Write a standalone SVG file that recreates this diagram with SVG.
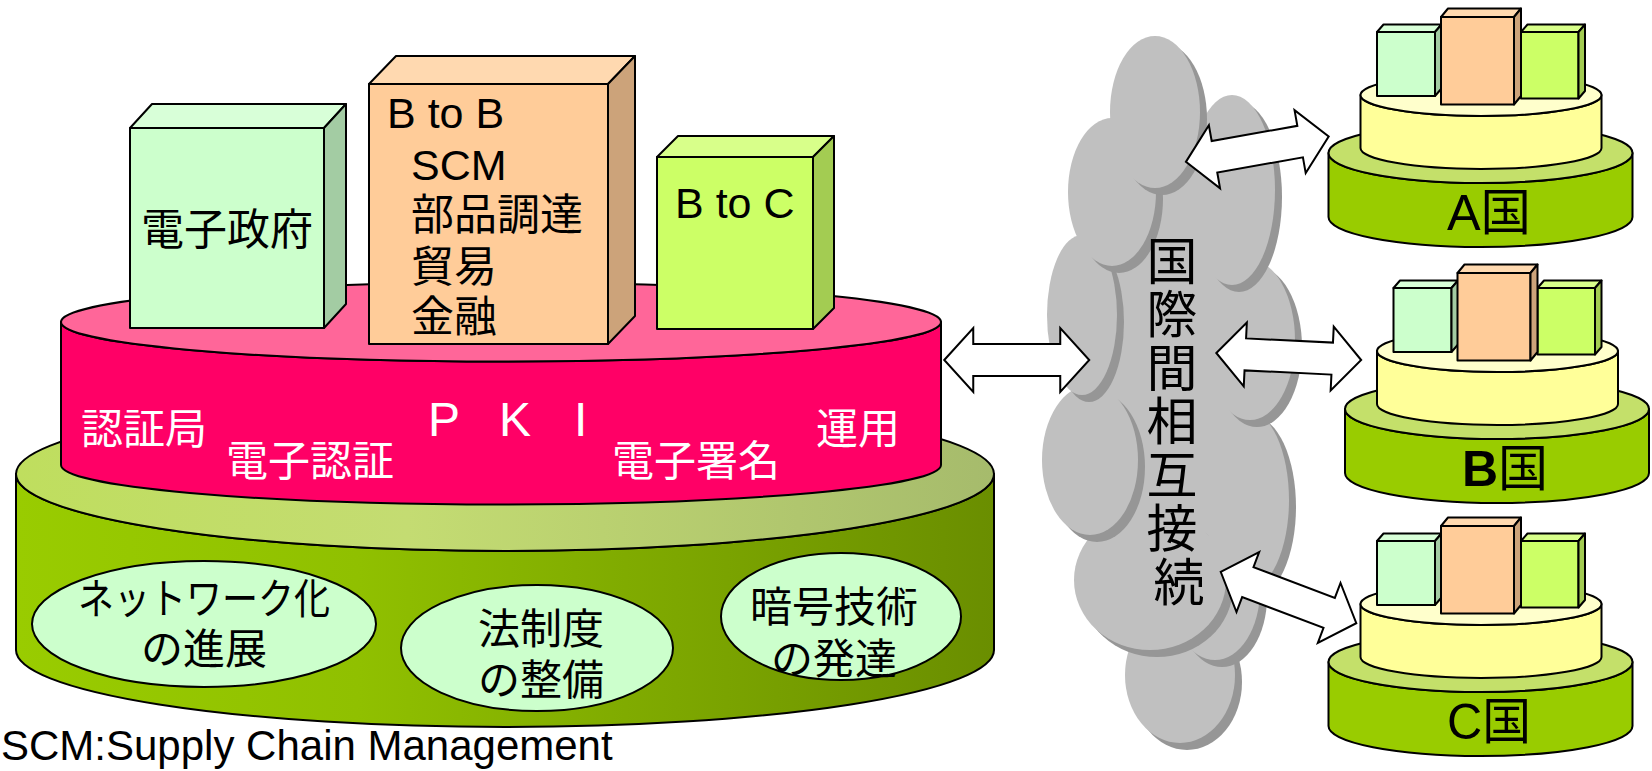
<svg xmlns="http://www.w3.org/2000/svg" xmlns:xlink="http://www.w3.org/1999/xlink" width="1652" height="771" viewBox="0 0 1652 771">
  <style>
    .ln { stroke: #000; stroke-width: 2; stroke-linejoin: round; }
    .t { font-family: "Liberation Sans", "Noto Sans CJK JP", sans-serif; font-size: 42px; fill: #000; }
    .t.box { font-size: 43px; }
    .t.big { font-size: 50px; }
    .t.vert { font-size: 51px; }
    .t.note { font-size: 42px; }
    .t.pk { font-size: 48px; }
    .w { fill: #fff; }
    .gF { fill: #CCFFCC; } .gT { fill: #D8FFD8; } .gS { fill: #A3CCA3; }
    .oF { fill: #FFCC99; } .oT { fill: #FFD9B0; } .oS { fill: #CCA37A; }
    .lF { fill: #CCFF66; } .lT { fill: #D8FF8A; } .lS { fill: #A3CC52; }
    .cl { fill: #C0C0C0; }
    .sh { fill: #969696; }
    .arrow { fill: #fff; stroke: #000; stroke-width: 2; stroke-linejoin: miter; }
  </style>
  <defs>
    <linearGradient id="baseSide" x1="0" y1="0" x2="1" y2="0">
      <stop offset="0" stop-color="#99CC00"/>
      <stop offset="0.35" stop-color="#90C000"/>
      <stop offset="1" stop-color="#6A8E00"/>
    </linearGradient>
    <linearGradient id="baseTop" x1="0" y1="0" x2="1" y2="0">
      <stop offset="0" stop-color="#BFDE5E"/>
      <stop offset="0.4" stop-color="#C4DC72"/>
      <stop offset="1" stop-color="#A6BB6C"/>
    </linearGradient>
    <!-- double-headed block arrow, 145 long, centred on the origin -->
    <path id="dblArrow" class="arrow" d="M -72.5 0 L -43.5 -32 L -43.5 -16 L 43.5 -16 L 43.5 -32 L 72.5 0 L 43.5 32 L 43.5 16 L -43.5 16 L -43.5 32 Z"/>
    <!-- country stack: green disc, yellow disc, three blocks -->
    <g id="stack">
      <path class="ln" fill="#99CC00" d="M 1328.5 153 L 1328.5 217 A 152 30 0 0 0 1632.5 217 L 1632.5 153 A 152 30 0 0 1 1328.5 153 Z"/>
      <ellipse class="ln" fill="#C4E06A" cx="1480.5" cy="153" rx="152" ry="30"/>
      <path class="ln" fill="#FFFF99" d="M 1360.5 95 L 1360.5 148 A 120.5 21 0 0 0 1601.5 148 L 1601.5 95 A 120.5 21 0 0 1 1360.5 95 Z"/>
      <ellipse class="ln" fill="#FFFFCC" cx="1481" cy="95" rx="120.5" ry="21"/>
      <rect class="ln gF" x="1377" y="32" width="58" height="64"/>
      <polygon class="ln gT" points="1377,32 1383.5,24.5 1441.5,24.5 1435,32"/>
      <polygon class="ln gS" points="1435,32 1441.5,24.5 1441.5,88.5 1435,96"/>
      <rect class="ln lF" x="1521" y="32" width="57.5" height="66.5"/>
      <polygon class="ln lT" points="1521,32 1527.5,24.5 1585,24.5 1578.5,32"/>
      <polygon class="ln lS" points="1578.5,32 1585,24.5 1585,91 1578.5,98.5"/>
      <rect class="ln oF" x="1441" y="17" width="73" height="87.5"/>
      <polygon class="ln oT" points="1441,17 1448,8.5 1521,8.5 1514,17"/>
      <polygon class="ln oS" points="1514,17 1521,8.5 1521,96 1514,104.5"/>
    </g>
  </defs>

  <rect width="1652" height="771" fill="#fff"/>

  <!-- foundation disc -->
  <g id="foundation">
    <path class="ln" fill="url(#baseSide)" d="M 16 474 L 16 650 A 489 77 0 0 0 994 650 L 994 474 A 489 77 0 0 1 16 474 Z"/>
    <ellipse class="ln" fill="url(#baseTop)" cx="505" cy="474" rx="489" ry="77"/>
  </g>

  <!-- PKI disc -->
  <g id="pki">
    <path class="ln" fill="#FF0066" d="M 61 322 L 61 465 A 440 39.5 0 0 0 941 465 L 941 322 A 440 39.5 0 0 1 61 322 Z"/>
    <ellipse class="ln" fill="#FF6699" cx="501" cy="322" rx="440" ry="39.5"/>
    <text class="t w" x="81" y="444">認証局</text>
    <text class="t w" x="226" y="476">電子認証</text>
    <text class="t w pk" x="428 499 574" y="436">PKI</text>
    <text class="t w" x="612" y="476">電子署名</text>
    <text class="t w" x="816" y="444">運用</text>
  </g>

  <g id="egov">
    <rect class="ln gF" x="130" y="128" width="194" height="200"/>
    <polygon class="ln gT" points="130,128 152,104 346,104 324,128"/>
    <polygon class="ln gS" points="324,128 346,104 346,304 324,328"/>
    <text class="t box" x="227" y="245" text-anchor="middle">電子政府</text>
  </g>

  <g id="btob">
    <rect class="ln oF" x="369" y="84" width="239" height="260"/>
    <polygon class="ln oT" points="369,84 396,56 635,56 608,84"/>
    <polygon class="ln oS" points="608,84 635,56 635,316 608,344"/>
    <text class="t box" x="387" y="128">B to B</text>
    <text class="t box" x="411" y="180">SCM</text>
    <text class="t box" x="411" y="230">部品調達</text>
    <text class="t box" x="411" y="282">貿易</text>
    <text class="t box" x="411" y="332">金融</text>
  </g>

  <g id="btoc">
    <rect class="ln lF" x="657" y="157" width="156" height="172"/>
    <polygon class="ln lT" points="657,157 678,136 834,136 813,157"/>
    <polygon class="ln lS" points="813,157 834,136 834,308 813,329"/>
    <text class="t box" x="675" y="218">B to C</text>
  </g>

  <g id="network">
    <ellipse class="ln" fill="#CCFFCC" cx="204" cy="624" rx="172" ry="63"/>
    <text class="t" x="204" y="614" text-anchor="middle" textLength="252" lengthAdjust="spacingAndGlyphs">ネットワーク化</text>
    <text class="t" x="204" y="664" text-anchor="middle">の進展</text>
  </g>
  <g id="law">
    <ellipse class="ln" fill="#CCFFCC" cx="537" cy="648" rx="136" ry="63"/>
    <text class="t" x="541" y="644" text-anchor="middle">法制度</text>
    <text class="t" x="541" y="695" text-anchor="middle">の整備</text>
  </g>
  <g id="crypto">
    <ellipse class="ln" fill="#CCFFCC" cx="841" cy="616.5" rx="120" ry="63.5"/>
    <text class="t" x="834" y="622" text-anchor="middle">暗号技術</text>
    <text class="t" x="834" y="674" text-anchor="middle">の発達</text>
  </g>

  <text class="t note" x="1" y="760">SCM:Supply Chain Management</text>

  <!-- interconnection cloud: bumps painted bottom-up, each with its shadow -->
  <g id="cloud">
    <ellipse class="cl" cx="1170" cy="400" rx="80" ry="250"/>
    <ellipse class="sh" cx="1187" cy="682" rx="55" ry="68"/>
    <ellipse class="cl" cx="1180" cy="675" rx="55" ry="68"/>
    <ellipse class="sh" cx="1222" cy="597" rx="45" ry="70"/>
    <ellipse class="cl" cx="1215" cy="590" rx="45" ry="70"/>
    <ellipse class="sh" cx="1157" cy="587" rx="76" ry="70"/>
    <ellipse class="cl" cx="1150" cy="580" rx="76" ry="70"/>
    <ellipse class="sh" cx="1254" cy="507" rx="42" ry="90"/>
    <ellipse class="cl" cx="1247" cy="500" rx="42" ry="90"/>
    <ellipse class="sh" cx="1097" cy="467" rx="48" ry="75"/>
    <ellipse class="cl" cx="1090" cy="460" rx="48" ry="75"/>
    <ellipse class="sh" cx="1089" cy="322" rx="35" ry="80"/>
    <ellipse class="cl" cx="1082" cy="315" rx="35" ry="80"/>
    <ellipse class="sh" cx="1257" cy="347" rx="45" ry="80"/>
    <ellipse class="cl" cx="1250" cy="340" rx="45" ry="80"/>
    <ellipse class="sh" cx="1239" cy="197" rx="43" ry="95"/>
    <ellipse class="cl" cx="1232" cy="190" rx="43" ry="95"/>
    <ellipse class="sh" cx="1119" cy="199" rx="44" ry="74"/>
    <ellipse class="cl" cx="1112" cy="192" rx="44" ry="74"/>
    <ellipse class="sh" cx="1162" cy="119" rx="45" ry="76"/>
    <ellipse class="cl" cx="1155" cy="112" rx="45" ry="76"/>
    <text class="t vert" text-anchor="middle">
      <tspan x="1179" y="279.5">国</tspan>
      <tspan x="1179" y="333">際</tspan>
      <tspan x="1179" y="386.5">間</tspan>
      <tspan x="1179" y="440">相</tspan>
      <tspan x="1179" y="493.5">互</tspan>
      <tspan x="1179" y="547">接</tspan>
      <tspan x="1179" y="600.5">続</tspan>
    </text>
  </g>

  <g id="country-a">
    <use xlink:href="#stack"/>
    <text class="t big" x="1489" y="230" text-anchor="middle" textLength="84" lengthAdjust="spacingAndGlyphs">A国</text>
  </g>
  <g id="country-b">
    <use xlink:href="#stack" transform="translate(16.5 256)"/>
    <text class="t big" x="1505" y="486" text-anchor="middle"><tspan font-weight="bold">B</tspan>国</text>
  </g>
  <g id="country-c">
    <use xlink:href="#stack" transform="translate(0 509)"/>
    <text class="t big" x="1489" y="739" text-anchor="middle" textLength="84" lengthAdjust="spacingAndGlyphs">C国</text>
  </g>

  <g id="connectors">
    <use xlink:href="#dblArrow" transform="translate(1016.75 360)"/>
    <use xlink:href="#dblArrow" transform="translate(1257.3 149.2) rotate(-10.05)"/>
    <use xlink:href="#dblArrow" transform="translate(1288.75 356.5) rotate(2.77)"/>
    <use xlink:href="#dblArrow" transform="translate(1288.5 597.5) rotate(20.75)"/>
  </g>
</svg>
